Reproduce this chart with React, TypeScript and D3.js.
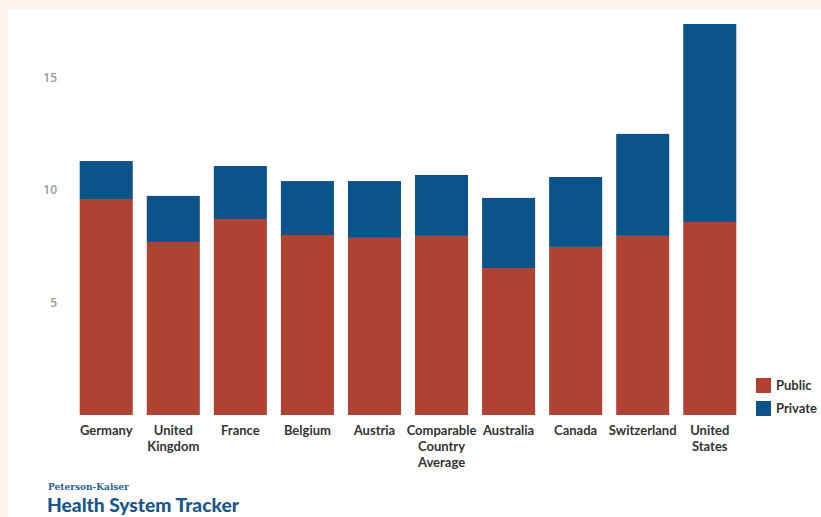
import React from "react";
import * as d3 from "d3";

const categories = [
  "Germany",
  "United Kingdom",
  "France",
  "Belgium",
  "Austria",
  "Comparable Country Average",
  "Australia",
  "Canada",
  "Switzerland",
  "United States",
];
const categoryLines = [
  ["Germany"],
  ["United", "Kingdom"],
  ["France"],
  ["Belgium"],
  ["Austria"],
  ["Comparable", "Country", "Average"],
  ["Australia"],
  ["Canada"],
  ["Switzerland"],
  ["United", "States"],
];
const publicValues = [9.61, 7.7, 8.72, 8.01, 7.88, 7.97, 6.54, 7.48, 7.97, 8.59];
const privateValues = [1.69, 2.05, 2.36, 2.4, 2.53, 2.71, 3.12, 3.11, 4.54, 8.81];
const seriesNames = ["Public", "Private"];
const tickValues = [5, 10, 15];

const W = 821;
const H = 517;
const COLORS = ["#b04234", "#0b5389"];

export default function App() {
  const x = d3.scaleBand<string>().domain(categories).range([73, 743]).paddingInner(14 / 67).paddingOuter(0.1);
  const y = d3.scaleLinear().domain([0, 18]).range([415, 10.5]);

  const stackData = categories.map((c, i) => ({ cat: c, Public: publicValues[i], Private: privateValues[i] }));
  const stacked = d3.stack<any>().keys(seriesNames)(stackData);

  const font = "Lato, 'Open Sans', sans-serif";

  return (
    <div style={{ position: "fixed", left: 0, top: 0 }}>
      <svg width={W} height={H} style={{ display: "block" }}>
        <rect x={0} y={0} width={W} height={H} fill="#fdf6f0" />
        <rect x={8} y={9} width={W - 8} height={H - 9} fill="#ffffff" />
        {tickValues.map((t) => (
          <text
            key={t}
            x={57}
            y={y(t)}
            dy="0.35em"
            textAnchor="end"
            fontFamily="'Open Sans', sans-serif"
            fontWeight={600}
            fontSize={12}
            fill="#9a9a9a"
          >
            {t}
          </text>
        ))}
        {stacked.map((s, si) => (
          <g key={s.key} fill={COLORS[si]}>
            {s.map((d: any, i: number) => (
              <rect
                key={i}
                x={x(categories[i])}
                width={x.bandwidth()}
                y={y(d[1])}
                height={y(d[0]) - y(d[1])}
              />
            ))}
          </g>
        ))}
        {categories.map((c, i) => (
          <text
            key={c}
            x={(x(c) as number) + x.bandwidth() / 2}
            y={435}
            textAnchor="middle"
            fontFamily={font}
            fontWeight={700}
            fontSize={13}
            fill="#333333"
          >
            {categoryLines[i].map((l, li) => (
              <tspan key={li} x={(x(c) as number) + x.bandwidth() / 2} dy={li === 0 ? 0 : 16}>
                {l}
              </tspan>
            ))}
          </text>
        ))}
        {seriesNames.map((n, i) => (
          <g key={n} transform={`translate(756, ${378 + i * 23})`}>
            <rect width={15} height={15} fill={COLORS[i]} />
            <text x={20} y={7.5} dy="0.35em" fontFamily={font} fontWeight={700} fontSize={13} fill="#333333">
              {n}
            </text>
          </g>
        ))}
        <text x={48} y={490} fontFamily="'DejaVu Serif', 'Liberation Serif', serif" fontWeight={700} fontSize={9} fill="#2a5f95">
          Peterson-Kaiser
        </text>
        <text x={47} y={512} fontFamily={font} fontWeight={900} fontSize={19} fill="#17568f" textLength={192} lengthAdjust="spacingAndGlyphs">
          Health System Tracker
        </text>
      </svg>
    </div>
  );
}
